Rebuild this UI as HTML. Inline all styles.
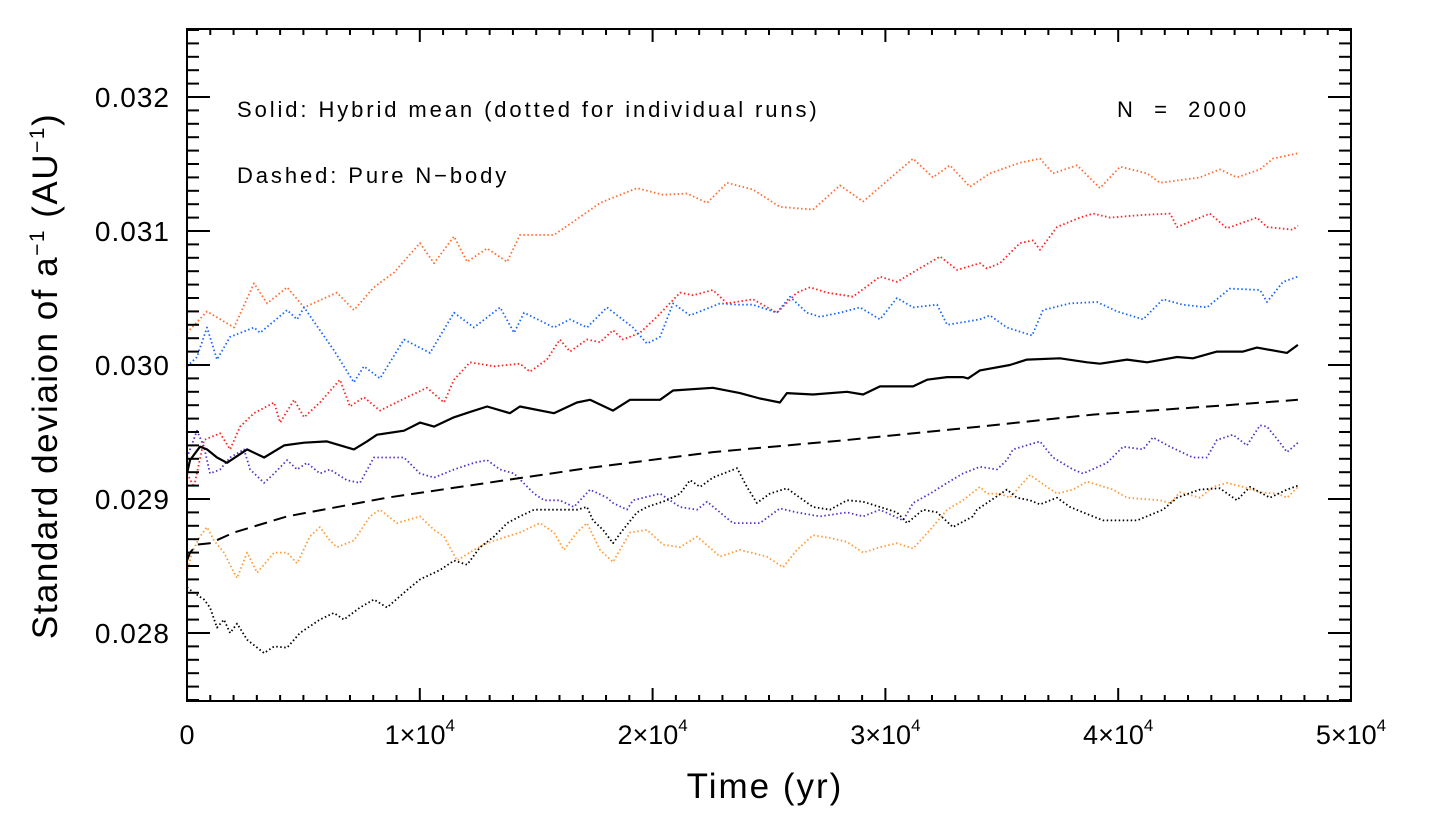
<!DOCTYPE html>
<html><head><meta charset="utf-8"><style>
body{margin:0;background:#fff;}
svg text{font-family:"Liberation Sans",sans-serif;fill:#000;}
</style></head><body>
<svg id="chart" width="1434" height="821" xmlns="http://www.w3.org/2000/svg">
<rect x="0" y="0" width="1434" height="821" fill="#fff"/>
<g id="marks"></g>
<g id="axes"></g>
<text x="237" y="117" font-size="22" letter-spacing="2.9">Solid: Hybrid mean (dotted for individual runs)</text>
<text x="1117" y="117" font-size="22" letter-spacing="3" xml:space="preserve">N  =  2000</text>
<text x="237" y="183" font-size="22" letter-spacing="2.9">Dashed: Pure N−body</text>
<text x="765" y="798" font-size="35" letter-spacing="2" text-anchor="middle">Time (yr)</text>
<text transform="translate(57,376) rotate(-90)" font-size="35" letter-spacing="1.5" text-anchor="middle">Standard deviaion of a<tspan font-size="21" dy="-13">−1</tspan><tspan dy="13"> (AU</tspan><tspan font-size="21" dy="-13">−1</tspan><tspan dy="13">)</tspan></text>
</svg>
<script>
// time in kyr, values in units of 1e-3 AU^-1
const yTicks=[28,29,30,31,32];
const yTickLabels=["0.028","0.029","0.030","0.031","0.032"];
const xTicks=[0,10,20,30,40,50];
const xTickMant=["0","1","2","3","4","5"];
const coralT=[0,0.86,2.02,2.88,3.44,4.30,5.03,6.44,7.17,8.03,8.89,10.01,10.61,11.47,12.03,12.89,13.75,14.30,15.76,17.18,17.74,19.33,20.45,21.48,22.34,23.20,24.31,25.47,26.89,28.05,29.04,31.19,32.04,32.77,33.63,34.49,35.78,36.64,37.20,38.23,39.22,40.08,41.24,41.80,43.51,44.37,45.10,46.09,46.65,47.72];
const coralV=[30.24,30.40,30.28,30.61,30.46,30.58,30.43,30.54,30.41,30.58,30.69,30.91,30.76,30.96,30.77,30.87,30.77,30.97,30.97,31.14,31.21,31.32,31.27,31.28,31.21,31.36,31.31,31.18,31.16,31.34,31.22,31.54,31.40,31.49,31.33,31.43,31.51,31.54,31.43,31.49,31.32,31.48,31.43,31.36,31.40,31.46,31.40,31.46,31.54,31.58];
const blueT=[0,0.43,0.86,1.29,1.85,2.88,3.14,4.30,4.73,5.03,5.71,6.31,7.17,7.60,8.29,9.32,10.44,11.47,12.33,13.45,14.05,14.48,15.76,16.45,17.18,18.04,19.16,19.76,20.32,20.88,21.61,22.90,23.63,24.31,25.34,25.90,26.63,27.19,28.05,28.91,29.77,30.50,31.19,32.22,32.65,34.06,34.49,35.22,36.30,36.77,37.93,39.09,39.95,41.07,41.92,42.78,43.81,44.80,46.09,46.39,47.08,47.72];
const blueV=[29.99,30.06,30.28,30.04,30.21,30.28,30.24,30.41,30.34,30.43,30.26,30.11,29.87,29.99,29.90,30.19,30.09,30.39,30.28,30.43,30.24,30.39,30.28,30.34,30.28,30.43,30.28,30.16,30.21,30.46,30.37,30.46,30.45,30.45,30.39,30.51,30.39,30.36,30.39,30.43,30.34,30.50,30.43,30.45,30.30,30.34,30.37,30.28,30.22,30.41,30.46,30.47,30.40,30.34,30.49,30.45,30.43,30.57,30.56,30.47,30.62,30.66];
const redT=[0,0.30,0.73,1.42,1.85,2.28,2.88,3.74,4.00,4.60,5.03,5.71,6.57,7.00,7.60,8.29,9.45,10.31,11.04,11.47,12.16,13.19,14.30,14.73,15.46,16.02,16.45,17.18,17.74,18.30,18.73,19.46,20.19,21.18,21.74,22.59,23.20,24.31,25.34,26.20,26.76,27.49,28.61,29.77,30.50,31.36,32.35,33.08,34.06,34.36,34.92,35.78,36.34,36.64,37.37,38.36,38.92,39.65,41.07,42.23,42.53,43.94,44.67,45.96,46.39,47.51,47.72];
const redV=[29.19,29.09,29.44,29.49,29.37,29.54,29.64,29.72,29.57,29.74,29.61,29.72,29.89,29.69,29.76,29.66,29.76,29.83,29.72,29.89,30.02,29.99,30.01,29.95,30.04,30.19,30.10,30.19,30.17,30.26,30.19,30.24,30.36,30.54,30.52,30.56,30.46,30.49,30.39,30.54,30.58,30.54,30.51,30.66,30.62,30.71,30.81,30.71,30.76,30.72,30.76,30.91,30.93,30.86,31.03,31.10,31.13,31.10,31.12,31.13,31.03,31.13,31.02,31.10,31.03,31.01,31.04];
const meanT=[0,0.13,0.56,0.86,1.29,1.72,2.58,3.31,4.17,5.03,6.01,7.17,7.73,8.16,9.32,10.01,10.61,11.47,12.16,12.89,13.87,14.30,15.76,16.75,17.31,18.30,19.03,20.32,20.88,22.59,23.75,24.61,25.47,25.77,26.89,28.35,29.04,29.77,31.19,31.79,32.65,33.33,33.55,34.06,35.35,36.08,37.50,38.66,39.22,40.38,41.24,42.53,43.21,44.24,45.36,45.96,47.25,47.72];
const meanV=[29.19,29.29,29.39,29.37,29.31,29.27,29.37,29.31,29.40,29.42,29.43,29.37,29.43,29.48,29.51,29.57,29.54,29.61,29.65,29.69,29.64,29.69,29.64,29.72,29.74,29.66,29.74,29.74,29.81,29.83,29.79,29.75,29.72,29.79,29.78,29.80,29.78,29.84,29.84,29.89,29.91,29.91,29.90,29.96,30.00,30.04,30.05,30.02,30.01,30.04,30.02,30.06,30.05,30.10,30.10,30.13,30.09,30.15];
const nbodyT=[0,0.13,0.43,0.99,2.02,4.30,8.59,12.89,17.18,22.59,28.35,34.06,38.92,44.67,47.72];
const nbodyV=[28.54,28.60,28.66,28.67,28.75,28.87,29.01,29.12,29.23,29.35,29.44,29.54,29.63,29.70,29.74];
const purpleT=[0,0.43,0.73,0.99,1.42,1.85,2.45,2.71,3.31,3.74,4.30,4.73,5.15,5.71,6.14,6.87,7.43,8.03,9.32,10.01,10.61,11.47,12.33,12.89,13.45,14.05,14.91,15.34,16.02,16.62,17.31,18.04,18.30,18.90,19.16,20.32,21.18,21.91,22.34,23.45,24.61,25.47,26.20,27.19,28.35,29.04,29.77,30.76,31.19,31.92,32.65,33.33,34.06,34.79,35.22,35.48,36.64,37.20,38.06,38.49,39.52,40.21,41.07,41.49,42.23,43.21,43.81,44.24,44.93,45.53,46.09,46.39,46.95,47.25,47.72];
const purpleV=[29.31,29.51,29.39,29.19,29.22,29.31,29.37,29.22,29.12,29.19,29.29,29.22,29.27,29.19,29.22,29.14,29.12,29.31,29.31,29.19,29.16,29.22,29.27,29.29,29.22,29.19,29.04,28.99,28.99,28.94,29.07,29.01,28.97,28.92,28.99,29.04,28.94,28.92,28.98,28.82,28.82,28.93,28.90,28.87,28.90,28.87,28.92,28.84,28.97,29.04,29.12,29.19,29.24,29.22,29.29,29.37,29.43,29.31,29.22,29.19,29.27,29.39,29.37,29.46,29.39,29.31,29.31,29.44,29.48,29.40,29.55,29.54,29.42,29.35,29.42];
const orangeT=[0,0.21,0.56,0.86,1.16,1.59,2.02,2.15,2.58,3.01,3.74,4.30,4.73,5.28,5.71,6.14,6.44,7.17,7.86,8.29,9.02,10.01,10.61,11.04,11.60,12.33,12.89,13.75,14.30,15.16,15.76,16.19,16.75,17.18,17.74,18.30,19.03,19.76,20.45,21.18,21.91,22.90,23.75,24.91,25.60,26.20,26.89,27.62,28.35,29.04,29.77,30.50,31.19,31.92,32.65,33.33,34.06,34.36,34.92,35.35,36.21,36.94,37.37,38.06,38.66,39.78,40.38,41.80,42.23,42.65,43.51,44.07,44.67,45.36,46.09,46.82,47.25,47.72];
const orangeV=[28.45,28.60,28.72,28.79,28.69,28.60,28.45,28.41,28.60,28.45,28.60,28.60,28.52,28.72,28.79,28.69,28.64,28.69,28.87,28.92,28.82,28.87,28.77,28.72,28.54,28.62,28.67,28.72,28.75,28.82,28.75,28.62,28.75,28.82,28.62,28.53,28.75,28.77,28.66,28.64,28.72,28.57,28.62,28.57,28.49,28.62,28.73,28.71,28.68,28.60,28.64,28.67,28.63,28.77,28.92,28.99,29.09,29.04,29.04,29.01,29.18,29.09,29.04,29.07,29.13,29.07,29.01,28.99,28.97,29.05,29.01,29.09,29.12,29.09,29.05,29.04,29.01,29.09];
const blackT=[0,0.30,0.73,0.99,1.29,1.59,1.85,2.15,2.58,3.31,3.74,4.30,4.85,5.71,6.31,6.74,7.43,8.03,8.59,9.45,10.01,10.87,11.47,12.03,12.59,13.19,13.75,14.30,14.91,15.76,16.75,17.18,17.44,17.87,18.30,18.73,19.33,19.76,20.62,21.18,21.61,22.04,22.59,23.63,24.05,24.48,25.04,25.77,26.33,26.89,27.62,28.35,29.04,29.77,30.50,30.93,31.62,32.22,32.90,33.76,33.93,35.22,35.65,36.21,36.64,37.37,37.93,38.49,39.35,40.21,40.81,41.92,42.53,43.51,44.37,45.10,45.66,46.52,47.25,47.72];
const blackV=[28.34,28.30,28.25,28.19,28.04,28.10,28.00,28.07,27.95,27.85,27.90,27.89,28.00,28.10,28.15,28.10,28.19,28.25,28.19,28.32,28.40,28.47,28.54,28.51,28.64,28.72,28.82,28.87,28.92,28.92,28.92,28.94,28.84,28.77,28.67,28.77,28.90,28.94,28.99,29.04,29.14,29.09,29.16,29.23,29.09,28.97,29.04,29.08,29.01,28.94,28.92,28.99,28.98,28.94,28.90,28.82,28.92,28.90,28.79,28.87,28.92,29.07,29.01,28.99,28.96,29.01,28.94,28.90,28.84,28.84,28.84,28.92,29.01,29.07,29.08,28.99,29.09,29.01,29.07,29.10];

const L=187,R=1351,T=29,B=701;
const XMIN=0,XMAX=50,YMIN=27.4925,YMAX=32.5075;
function xs(t){return L+(t-XMIN)/(XMAX-XMIN)*(R-L);}
function ys(v){return B-(v-YMIN)/(YMAX-YMIN)*(B-T);}
const NS="http://www.w3.org/2000/svg";
const marks=document.getElementById('marks');
const axes=document.getElementById('axes');
function mk(tag,attrs,parent){const e=document.createElementNS(NS,tag);for(const k in attrs)e.setAttribute(k,attrs[k]);parent.appendChild(e);return e;}
function series(tArr,vArr,color,w,dash,name){
  let d='';
  for(let i=0;i<tArr.length;i++){d+=(i?'L':'M')+xs(tArr[i]).toFixed(1)+','+ys(vArr[i]).toFixed(1);}
  const p=mk('path',{d:d,fill:'none',stroke:color,'stroke-width':w,'stroke-linejoin':'round'},marks);
  if(dash)p.setAttribute('stroke-dasharray',dash);
  
  
}
series(coralT,coralV,'#ff6a2e',1.8,'1.5 2.5','run-coral');
series(redT,redV,'#ff2020',1.8,'1.5 2.5','run-red');
series(blueT,blueV,'#1565ff',1.8,'1.5 2.5','run-blue');
series(purpleT,purpleV,'#5530c8',1.8,'1.5 2.5','run-purple');
series(orangeT,orangeV,'#ff9a35',1.8,'1.5 2.5','run-orange');
series(blackT,blackV,'#000',1.8,'1.5 2.5','run-black');
series(nbodyT,nbodyV,'#000',2,'13 7','pure-nbody-dashed');
series(meanT,meanV,'#000',2.2,null,'hybrid-mean-solid');

const frame=mk('rect',{x:L,y:T,width:R-L,height:B-T,fill:'none',stroke:'#000','stroke-width':2},axes);


for(let k=0;k<=50;k++){
  const v=27.5+k*0.1; const y=ys(v); const major=(k%10===5);
  const len=major?23:12;
  mk('line',{x1:L,y1:y,x2:L+len,y2:y,stroke:'#000','stroke-width':2},axes);
  mk('line',{x1:R,y1:y,x2:R-len,y2:y,stroke:'#000','stroke-width':2},axes);
}
yTicks.forEach((v,i)=>{
  const t=mk('text',{x:170,y:ys(v)+10,'font-size':28,'letter-spacing':1,'text-anchor':'end'},axes);
  t.textContent=yTickLabels[i];
  
  
});
for(let k=0;k<=50;k++){
  const x=xs(k); const major=(k%10===0); const len=major?13:6;
  mk('line',{x1:x,y1:B,x2:x,y2:B-len,stroke:'#000','stroke-width':2},axes);
  mk('line',{x1:x,y1:T,x2:x,y2:T+len,stroke:'#000','stroke-width':2},axes);
}
xTicks.forEach((v,i)=>{
  const t=mk('text',{x:xs(v),y:744,'font-size':27,'text-anchor':'middle'},axes);
  
  
  if(v===0){t.textContent='0';}
  else{
    t.textContent=xTickMant[i]+'×10';
    const s=document.createElementNS(NS,'tspan');
    s.setAttribute('font-size','17');s.setAttribute('dy','-13');
    s.textContent='4';t.appendChild(s);
  }
});
</script>
</body></html>
